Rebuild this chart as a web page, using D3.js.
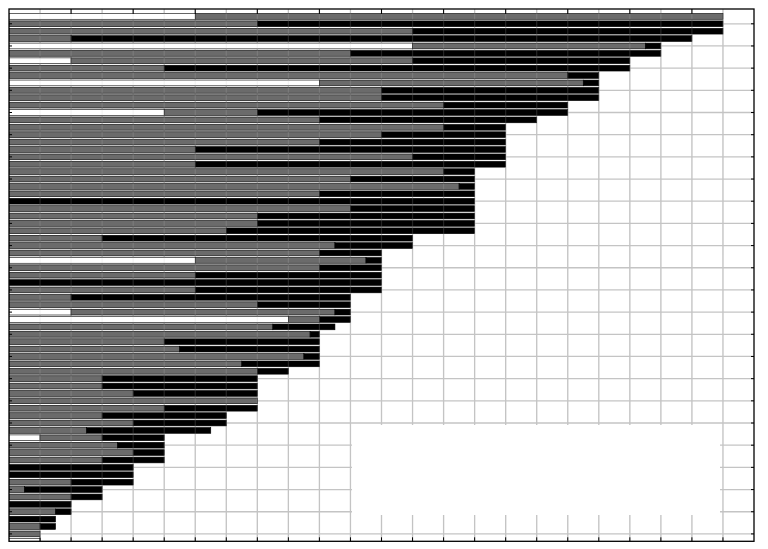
<!DOCTYPE html>
<html><head><meta charset="utf-8">
<script src="https://cdn.jsdelivr.net/npm/d3@7"></script>
<style>html,body{margin:0;padding:0;background:#fff;}svg{display:block;}</style>
</head><body>
<svg id="c" width="768" height="549"></svg>
<script>
// rows listed from top to bottom
const whiteVals = [6,0,0,0,13,0,2,0,0,10,0,0,0,5,0,0,0,0,0,0,0,0,0,0,0,0,0,0,0,0,0,0,0,6,0,0,0,0,0,0,2,9,0,0,0,0,0,0,0,0,0,0,0,0,0,0,0,1,0,0,0,0,0,0,0,0,0,0,0,0,0,1];
const grayVals  = [17,8,13,2,7.5,11,11,5,18,8.5,12,12,14,3,10,14,12,10,6,13,6,14,11,14.5,10,0,11,8,8,7,3,10.5,10,5.5,10,6,0,6,2,8,8.5,1,8.5,9.7,5,5.5,9.5,7.5,8,3,3,4,8,5,3,4,2.5,2,3.5,4,3,0,0,2,0.5,2,0,1.5,0,1,1,0];
const blackVals = [0,15,10,20,0.5,10,7,15,1,0.5,7,7,4,10,7,2,4,6,10,3,10,1,4,0.5,5,15,4,7,7,8,10,2.5,2,0.5,2,6,12,6,9,3,0.5,1,2,0.3,5,4.5,0.5,2.5,1,5,5,4,0,3,4,3,4,2,1.5,1,2,4,4,2,2.5,1,2,0.5,1.5,0.5,0,0];
const xTicks = d3.range(0, 25, 1);
const xTopTicks = d3.range(2, 24, 2);
const yTicks = d3.range(1, 71, 3);

const L = 9, R = 754, T = 9, B = 541.3;
const svg = d3.select('#c');
const x = d3.scaleLinear().domain([0, 24]).range([L, R]);
const y = d3.scaleLinear().domain([-1, 71]).range([T, B]);
const step = y(1) - y(0);
const bh = step * 0.78;

const rows = whiteVals.map((w, i) => ({i, segs: [
  {x0: 0, x1: w, c: '#ffffff'},
  {x0: w, x1: w + grayVals[i], c: '#6b6b6b'},
  {x0: w + grayVals[i], x1: w + grayVals[i] + blackVals[i], c: '#000000'}
]}));

svg.append('defs').append('clipPath').attr('id', 'clip')
  .append('rect').attr('x', L).attr('y', T).attr('width', R - L).attr('height', B - T);

// grid below
const grid = svg.append('g');
grid.selectAll('line.v').data(xTicks.slice(1, -1)).join('line')
  .attr('x1', d => x(d)).attr('x2', d => x(d)).attr('y1', T).attr('y2', B)
  .attr('stroke', '#c4c4c4').attr('stroke-width', 1.3);
grid.selectAll('line.h').data(yTicks).join('line')
  .attr('y1', d => y(d)).attr('y2', d => y(d)).attr('x1', L).attr('x2', R)
  .attr('stroke', '#c4c4c4').attr('stroke-width', 1.3);

const bars = svg.append('g').attr('clip-path', 'url(#clip)');
rows.forEach(r => {
  bars.selectAll(null).data(r.segs.filter(s => s.x1 > s.x0)).join('rect')
    .attr('x', s => x(s.x0)).attr('width', s => x(s.x1) - x(s.x0))
    .attr('y', y(r.i) - bh / 2).attr('height', bh)
    .attr('fill', s => s.c).attr('stroke', '#000').attr('stroke-width', 0.6);
});

// faint grid over bars
const grid2 = svg.append('g').attr('clip-path', 'url(#clip)');
grid2.selectAll('line').data(xTicks.slice(1, -1)).join('line')
  .attr('x1', d => x(d)).attr('x2', d => x(d)).attr('y1', T).attr('y2', B)
  .attr('stroke', '#c4c4c4').attr('stroke-width', 1.2).attr('opacity', 0.18);

// blank legend box
svg.append('rect').attr('x', 352).attr('y', 425).attr('width', 368).attr('height', 90).attr('fill', '#fff');

// axes box and ticks
const ax = svg.append('g').attr('stroke', '#000').attr('stroke-width', 1);
ax.append('rect').attr('x', L).attr('y', T).attr('width', R - L).attr('height', B - T).attr('fill', 'none').attr('stroke-width', 1.3);
ax.selectAll('line.bt').data(xTicks.slice(1, -1)).join('line')
  .attr('x1', d => x(d)).attr('x2', d => x(d)).attr('y1', B).attr('y2', B - 4);
ax.selectAll('line.tt').data(xTopTicks).join('line')
  .attr('x1', d => x(d)).attr('x2', d => x(d)).attr('y1', T).attr('y2', T + 5);
ax.selectAll('line.lt').data(yTicks).join('line')
  .attr('y1', d => y(d)).attr('y2', d => y(d)).attr('x1', L).attr('x2', L + 3);
ax.selectAll('line.rt').data(yTicks).join('line')
  .attr('y1', d => y(d)).attr('y2', d => y(d)).attr('x1', R).attr('x2', R - 3);
</script>
</body></html>
